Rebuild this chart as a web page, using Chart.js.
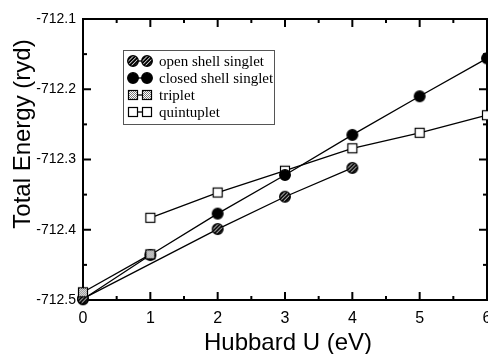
<!DOCTYPE html>
<html>
<head>
<meta charset="utf-8">
<script src="https://cdn.jsdelivr.net/npm/chart.js@4"></script>
<style>
  html, body { margin: 0; padding: 0; background: #fff; overflow: hidden; }
  #wrap { width: 488px; height: 354px; }
</style>
</head>
<body>
<div id="wrap"><canvas id="energyChart" width="488" height="354"></canvas></div>
<script>
// ========== Data ==========
const uValues = [0, 1, 2, 3, 4, 5, 6];
const openShellSinglet   = [-712.498, null, -712.399, -712.353, -712.312, null, null];
const closedShellSinglet = [-712.499, -712.436, -712.377, -712.322, -712.265, -712.210, -712.156];
const triplet            = [-712.489, -712.435, null, null, null, null, null];
const quintuplet         = [null, -712.383, -712.347, -712.316, -712.284, -712.262, -712.237];

const seriesNames = ['open shell singlet', 'closed shell singlet', 'triplet', 'quintuplet'];
const xTicks = [0, 1, 2, 3, 4, 5, 6];
const xMinorTicks = [0.5, 1.5, 2.5, 3.5, 4.5, 5.5];
const yTicks = [-712.5, -712.4, -712.3, -712.2, -712.1];
const yMinorTicks = [-712.45, -712.35, -712.25, -712.15];

const SANS = '"Liberation Sans", Arial, sans-serif';
const SERIF = '"Liberation Serif", "Times New Roman", serif';

// ========== Markers ==========
function makeMarker(kind) {
  const c = document.createElement('canvas');
  c.width = 14; c.height = 14;
  const g = c.getContext('2d');
  if (kind === 'hatched' || kind === 'filled') {
    g.beginPath();
    g.arc(7, 7, 5.3, 0, Math.PI * 2);
    g.fillStyle = kind === 'filled' ? '#000' : '#fff';
    g.fill();
    if (kind === 'hatched') {
      g.save();
      g.clip();
      g.strokeStyle = '#000';
      g.lineWidth = 2;
      for (let k = -14; k <= 28; k += 3.8) {
        g.beginPath();
        g.moveTo(k, 14);
        g.lineTo(k + 14, 0);
        g.stroke();
      }
      g.restore();
    }
    g.beginPath();
    g.arc(7, 7, 5.3, 0, Math.PI * 2);
    g.strokeStyle = '#000';
    g.lineWidth = 1.3;
    g.stroke();
  } else {
    g.fillStyle = '#fff';
    g.fillRect(2, 2, 10, 10);
    if (kind === 'checked') {
      for (let i = 2; i < 12; i++) {
        for (let j = 2; j < 12; j++) {
          if ((i + j) % 2 === 0) {
            g.fillStyle = '#7a7a7a';
            g.fillRect(i, j, 1, 1);
          }
        }
      }
    }
    g.strokeStyle = '#000';
    g.lineWidth = 1.2;
    g.strokeRect(2.5, 2.5, 9, 9);
  }
  return c;
}

const markers = [makeMarker('hatched'), makeMarker('filled'), makeMarker('checked'), makeMarker('open')];

function toPoints(values) {
  return uValues.map((u, i) => ({ x: u, y: values[i] })).filter(p => p.y !== null);
}

// ========== Frame + inside ticks ==========
const framePlugin = {
  id: 'frame',
  beforeDatasetsDraw(chart) {
    const { ctx, chartArea: a, scales } = chart;
    const xs = scales.x, ys = scales.y;
    ctx.save();
    ctx.strokeStyle = '#000';
    ctx.lineWidth = 2;
    ctx.strokeRect(a.left, a.top, a.right - a.left, a.bottom - a.top);

    const tick = (x1, y1, x2, y2) => {
      ctx.beginPath(); ctx.moveTo(x1, y1); ctx.lineTo(x2, y2); ctx.stroke();
    };
    xTicks.forEach(v => {
      const px = xs.getPixelForValue(v);
      tick(px, a.bottom, px, a.bottom - 8);
      tick(px, a.top, px, a.top + 8);
    });
    xMinorTicks.forEach(v => {
      const px = xs.getPixelForValue(v);
      tick(px, a.bottom, px, a.bottom - 4);
      tick(px, a.top, px, a.top + 4);
    });
    yTicks.forEach(v => {
      const py = ys.getPixelForValue(v);
      tick(a.left, py, a.left + 8, py);
      tick(a.right, py, a.right - 8, py);
    });
    yMinorTicks.forEach(v => {
      const py = ys.getPixelForValue(v);
      tick(a.left, py, a.left + 4, py);
      tick(a.right, py, a.right - 4, py);
    });
    ctx.restore();
  }
};

// ========== Axis titles + legend box ==========
const decorPlugin = {
  id: 'decor',
  afterDraw(chart) {
    const ctx = chart.ctx;
    ctx.save();
    ctx.fillStyle = '#000';
    ctx.font = '24px ' + SANS;
    ctx.textAlign = 'center';
    ctx.textBaseline = 'alphabetic';
    ctx.fillText('Hubbard U (eV)', 288, 350);

    ctx.translate(30, 134);
    ctx.rotate(-Math.PI / 2);
    ctx.fillText('Total Energy (ryd)', 0, 0);
    ctx.restore();

    // legend
    ctx.save();
    ctx.strokeStyle = '#555';
    ctx.lineWidth = 1;
    ctx.strokeRect(123.5, 50.5, 151, 74);
    ctx.font = '15px ' + SERIF;
    ctx.textAlign = 'left';
    ctx.textBaseline = 'middle';
    ctx.fillStyle = '#000';
    seriesNames.forEach((name, i) => {
      const y = 61 + i * 17;
      ctx.strokeStyle = '#000';
      ctx.lineWidth = 1.3;
      ctx.beginPath(); ctx.moveTo(133, y); ctx.lineTo(147, y); ctx.stroke();
      ctx.drawImage(markers[i], 133 - 7, y - 7);
      ctx.drawImage(markers[i], 147 - 7, y - 7);
      ctx.fillText(name, 159, y + 1);
    });
    ctx.restore();
  }
};

// ========== Chart ==========
const allSeries = [openShellSinglet, closedShellSinglet, triplet, quintuplet];
const drawOrder = [1, 1, 0, 1];

const datasets = allSeries.map((values, i) => ({
  label: seriesNames[i],
  data: toPoints(values),
  borderColor: '#000',
  borderWidth: 1.3,
  pointStyle: markers[i],
  pointRadius: 6,
  pointHoverRadius: 6,
  tension: 0,
  clip: false,
  order: drawOrder[i]
}));

const ctx = document.getElementById('energyChart').getContext('2d');
new Chart(ctx, {
  type: 'line',
  data: { datasets },
  options: {
    responsive: false,
    animation: false,
    events: [],
    layout: { autoPadding: false, padding: { top: 19, right: 1, left: 0, bottom: 0 } },
    plugins: {
      legend: { display: false },
      tooltip: { enabled: false }
    },
    scales: {
      x: {
        type: 'linear',
        min: 0,
        max: 6,
        afterBuildTicks: s => { s.ticks = xTicks.map(v => ({ value: v })); },
        afterFit: s => { s.height = 54; s.paddingLeft = 0; s.paddingRight = 0; },
        grid: { display: false, drawTicks: false },
        border: { display: false },
        ticks: {
          color: '#000',
          font: { family: SANS, size: 16 },
          padding: 9,
          maxRotation: 0,
          callback: v => String(v)
        }
      },
      y: {
        type: 'linear',
        min: -712.5,
        max: -712.1,
        afterBuildTicks: s => { s.ticks = yTicks.map(v => ({ value: v })); },
        afterFit: s => { s.width = 83; s.paddingTop = 0; s.paddingBottom = 0; },
        grid: { display: false, drawTicks: false },
        border: { display: false },
        ticks: {
          color: '#000',
          font: { family: SANS, size: 14 },
          padding: 7,
          callback: v => Number(v).toFixed(1)
        }
      }
    }
  },
  plugins: [framePlugin, decorPlugin]
});
</script>
</body>
</html>
